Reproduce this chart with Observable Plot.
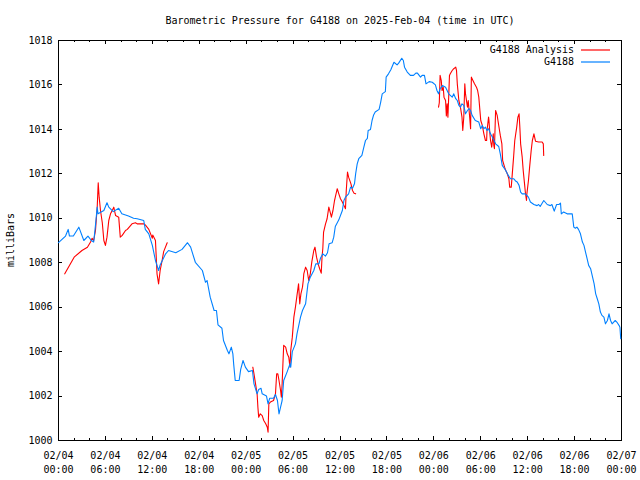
<!DOCTYPE html>
<html>
<head>
<meta charset="utf-8">
<script src="https://cdn.jsdelivr.net/npm/d3@7"></script>
<script src="https://cdn.jsdelivr.net/npm/@observablehq/plot@0.6"></script>
<style>
  html, body { margin: 0; padding: 0; background: #fff; }
  svg { display: block; }
</style>
</head>
<body>
<div id="chart"></div>
<script>
// ---- Data (hours since 2025-02-04 00:00 UTC, pressure in mbar) ----
const chartTitle = "Barometric Pressure for G4188 on 2025-Feb-04 (time in UTC)";
const yLabel = "milliBars";
const seriesNames = ["G4188 Analysis", "G4188"];
const seriesColors = ["#ff0000", "#0080ff"];
const yTickValues = [1000, 1002, 1004, 1006, 1008, 1010, 1012, 1014, 1016, 1018];
const startDay = "2025-02-04T00:00:00Z";
const spanHours = 72;

// Observed station pressure
const stationReadings = [
  [0,1008.9],[0.9,1009.2],[1.24,1009.5],[1.4,1009.2],[1.9,1009.2],[2.6,1009.6],[3.24,1009.0],[3.77,1009.2],
  [4.2,1009.0],[4.5,1008.93],[4.73,1009.7],[4.95,1010.5],[5.05,1010.2],[5.8,1010.35],[6.2,1010.7],[6.43,1010.5],
  [7.0,1010.3],[7.7,1010.45],[8.1,1010.2],[8.95,1010.1],[9.6,1010.0],[10.06,1009.98],[10.9,1009.9],[11.1,1009.5],
  [11.55,1009.3],[12.0,1008.78],[12.4,1008.1],[12.8,1007.65],[13.0,1007.9],[13.7,1008.4],[14.07,1008.55],[15.0,1008.45],
  [15.8,1008.6],[16.5,1008.9],[16.9,1008.7],[17.5,1008.02],[18.4,1007.65],[18.8,1007.12],[19.0,1007.2],[19.4,1006.45],
  [19.9,1005.85],[20.2,1005.85],[20.4,1005.2],[20.9,1005.05],[21.1,1004.5],[21.6,1004.05],[21.8,1003.9],[22.1,1004.2],
  [22.3,1003.9],[22.4,1003.45],[22.6,1002.7],[23.1,1002.7],[23.3,1003.2],[23.6,1003.6],[23.9,1003.3],[24.3,1003.1],
  [24.8,1003.15],[25.0,1002.55],[25.4,1002.1],[25.6,1002.3],[25.9,1002.35],[26.05,1002.1],[26.6,1002.0],[26.8,1001.65],
  [27.0,1001.9],[27.5,1001.9],[27.75,1002.07],[28.0,1001.8],[28.2,1001.2],[28.4,1001.5],[28.6,1001.8],[28.8,1002.7],
  [29.25,1003.1],[29.6,1003.45],[29.7,1003.3],[29.9,1004.0],[30.3,1004.35],[30.5,1004.8],[30.95,1005.55],[31.2,1005.85],
  [31.6,1006.15],[31.9,1007.05],[32.2,1007.35],[32.65,1007.65],[32.9,1007.95],[33.3,1007.95],[33.5,1008.2],[33.8,1008.4],
  [34.15,1008.3],[34.4,1008.45],[34.6,1008.85],[35.0,1008.9],[35.2,1009.15],[35.4,1009.63],[35.85,1009.93],[36.3,1010.35],
  [36.5,1010.8],[36.7,1010.95],[37.1,1011.1],[37.35,1011.4],[37.6,1011.35],[37.85,1011.55],[38.0,1012.0],[38.2,1012.45],
  [38.4,1012.68],[38.8,1012.83],[39.05,1013.2],[39.26,1013.5],[39.5,1013.6],[39.6,1013.95],[39.9,1014.0],[40.1,1014.4],
  [40.3,1014.65],[40.5,1014.78],[41.0,1014.9],[41.2,1015.22],[41.4,1015.6],[41.8,1015.7],[41.9,1016.35],[42.2,1016.5],
  [42.5,1016.68],[42.9,1017.02],[43.3,1016.9],[43.5,1016.98],[43.9,1017.2],[44.1,1017.1],[44.25,1016.8],[44.6,1016.58],
  [45.0,1016.43],[45.4,1016.43],[45.7,1016.53],[45.9,1016.53],[46.3,1016.35],[46.5,1016.43],[46.8,1016.43],[47.0,1016.05],
  [47.4,1016.15],[47.8,1016.12],[48.2,1016.0],[48.4,1015.75],[48.6,1015.6],[48.8,1015.83],[49.1,1015.97],[49.5,1015.9],
  [49.9,1015.6],[50.35,1015.45],[50.55,1015.6],[50.8,1015.38],[51.0,1015.3],[51.2,1015.08],[51.4,1015.0],[51.6,1015.15],
  [51.83,1015.08],[52.05,1014.7],[52.3,1014.85],[52.5,1014.93],[52.7,1014.85],[52.9,1014.63],[53.3,1014.4],[53.75,1014.33],
  [54.0,1014.03],[54.2,1014.18],[54.4,1014.03],[54.6,1014.1],[54.8,1013.95],[55.0,1014.03],[55.25,1013.8],[55.5,1013.65],
  [55.7,1013.5],[55.9,1013.35],[56.3,1013.23],[56.5,1012.9],[56.75,1012.38],[57.2,1012.15],[57.4,1012.0],[57.8,1011.78],
  [58.2,1011.78],[58.45,1011.68],[58.66,1011.63],[58.9,1011.48],[59.1,1011.18],[59.3,1011.1],[59.7,1011.1],[60.1,1010.95],
  [60.35,1010.73],[60.8,1010.62],[61.2,1010.57],[61.4,1010.62],[61.6,1010.53],[62.06,1010.8],[62.5,1010.62],[62.9,1010.57],
  [63.1,1010.62],[63.3,1010.42],[63.4,1010.32],[63.7,1010.62],[64.0,1010.62],[64.2,1010.68],[64.3,1010.2],[64.6,1010.28],
  [65.05,1010.2],[65.7,1010.2],[65.9,1009.6],[66.1,1009.55],[66.3,1009.6],[66.5,1009.5],[66.75,1009.3],[67.0,1008.93],
  [67.2,1008.78],[67.4,1008.48],[67.6,1008.18],[67.8,1007.88],[68.05,1007.73],[68.3,1007.35],[68.5,1007.05],[68.7,1006.6],
  [68.9,1006.38],[69.1,1006.15],[69.3,1005.78],[69.5,1005.63],[69.75,1005.55],[69.95,1005.25],[70.2,1005.4],[70.4,1005.7],
  [70.6,1005.4],[70.8,1005.25],[71.0,1005.33],[71.2,1005.4],[71.4,1005.33],[71.7,1005.17],[71.8,1005.1],[71.9,1004.58]
];

// Model analysis pressure (null = no analysis, line breaks)
const analysisReadings = [
  [0.8,1007.5],[2.0,1008.25],[3.0,1008.55],[3.7,1008.7],[4.1,1008.93],[4.3,1009.1],[4.5,1009.0],[4.73,1009.45],
  [4.95,1010.5],[5.08,1011.6],[5.2,1010.95],[5.37,1010.35],[5.6,1009.8],[5.8,1009.0],[6.0,1008.78],[6.2,1009.15],
  [6.43,1009.9],[6.65,1010.2],[6.87,1010.35],[7.07,1010.5],[7.3,1010.12],[7.7,1010.05],[7.9,1009.15],[8.15,1009.23],
  [8.57,1009.45],[8.8,1009.5],[9.4,1009.75],[9.85,1009.8],[10.06,1009.75],[10.9,1009.75],[11.1,1009.7],[11.55,1009.5],
  [12.0,1009.1],[12.05,1009.25],[12.4,1009.0],[12.6,1007.5],[12.8,1007.05],[13.0,1007.65],[13.25,1008.1],[13.45,1008.5],
  [13.9,1008.9],
  [19.0,null],
  [24.85,1003.3],[25.0,1003.0],[25.2,1002.55],[25.4,1002.1],[25.5,1001.5],[25.6,1001.05],[25.8,1001.2],[26.05,1001.12],
  [26.25,1000.9],[26.5,1000.75],[26.7,1000.6],[26.8,1000.37],[26.9,1001.65],[27.1,1001.73],[27.5,1001.8],[27.75,1002.1],
  [27.9,1003.0],[28.05,1003.0],[28.2,1002.7],[28.4,1002.25],[28.5,1001.95],[28.6,1002.55],[28.7,1003.45],[28.8,1004.28],
  [29.05,1004.2],[29.25,1003.9],[29.45,1003.75],[29.6,1003.3],[29.7,1004.05],[29.9,1004.65],[30.1,1005.55],[30.3,1006.0],
  [30.5,1006.53],[30.7,1007.05],[30.85,1006.15],[31.0,1006.6],[31.2,1006.9],[31.3,1007.2],[31.37,1007.5],[31.6,1007.8],
  [31.8,1007.65],[32.0,1007.2],[32.2,1007.5],[32.4,1008.05],[32.65,1008.55],[32.8,1008.7],[33.0,1008.25],[33.2,1007.95],
  [33.4,1007.73],[33.6,1007.53],[33.7,1008.25],[33.8,1008.63],[33.9,1009.38],[34.15,1009.75],[34.35,1009.98],[34.57,1010.5],
  [34.8,1010.2],[34.9,1010.05],[35.1,1010.35],[35.3,1010.8],[35.4,1010.95],[35.65,1011.33],[35.85,1011.1],[36.06,1010.88],
  [36.3,1010.73],[36.5,1010.58],[36.7,1010.43],[36.8,1011.25],[36.96,1012.08],[37.1,1011.85],[37.4,1011.55],[37.6,1011.25],
  [37.8,1011.13],[38.0,1011.1],
  [43.0,null],
  [48.6,1015.0],[48.7,1015.2],[48.8,1016.43],[48.95,1016.2],[49.05,1015.75],[49.2,1015.9],[49.3,1015.45],[49.5,1015.3],
  [49.6,1014.6],[49.7,1015.15],[49.8,1014.55],[49.9,1015.45],[50.0,1016.43],[50.1,1016.5],[50.35,1016.65],[50.55,1016.73],
  [50.8,1016.8],[50.9,1016.65],[51.0,1016.05],[51.2,1015.3],[51.4,1015.0],[51.6,1014.55],[51.7,1013.95],[51.83,1014.55],
  [51.96,1016.05],[52.05,1015.6],[52.3,1015.0],[52.4,1015.3],[52.6,1014.48],[52.7,1014.03],[52.8,1016.35],[53.0,1016.2],
  [53.2,1016.05],[53.45,1015.9],[53.6,1015.75],[53.75,1015.45],[54.0,1014.4],[54.2,1014.18],[54.4,1013.8],[54.6,1013.5],
  [54.75,1013.5],[54.8,1013.95],[55.0,1014.55],[55.05,1014.4],[55.15,1013.88],[55.25,1013.5],[55.4,1013.2],[55.6,1013.8],
  [55.67,1013.28],[55.75,1013.13],[55.9,1014.85],[56.1,1014.63],[56.2,1014.4],[56.4,1013.95],[56.5,1013.73],[56.7,1013.35],
  [56.8,1012.6],[57.05,1012.3],[57.2,1012.15],[57.4,1012.0],[57.6,1011.78],[57.7,1011.4],[57.9,1011.4],[58.1,1012.3],
  [58.2,1012.75],[58.35,1013.5],[58.6,1014.1],[58.75,1014.55],[58.9,1014.7],[59.0,1014.1],[59.1,1013.35],[59.3,1012.75],
  [59.43,1012.15],[59.6,1011.55],[59.7,1011.18],[59.85,1010.8],[59.9,1011.1],[60.1,1011.7],[60.25,1012.3],[60.45,1013.05],
  [60.6,1013.5],[60.8,1013.8],[61.0,1013.47],[61.4,1013.43],[61.85,1013.43],[62.0,1013.35],[62.05,1012.83]
];

// ---- Build ----
const t0 = new Date(startDay);
const toDate = h => new Date(t0.getTime() + h * 3600e3);
const t1 = toDate(spanHours);
const station = stationReadings.map(([h, p]) => ({t: toDate(h), p}));
const analysis = analysisReadings.map(([h, p]) => ({t: toDate(h), p}));
const majorX = d3.utcHour.every(6).range(t0, toDate(spanHours + 0.1));
const minorX = d3.utcHour.every(2).range(t0, toDate(spanHours + 0.1));
const fmt = d3.utcFormat("%m/%d\n%H:%M");

const font = "'DejaVu Sans Mono', 'Liberation Mono', monospace";
const mL = 58, mR = 19, mT = 40, mB = 40, W = 640, H = 480;
const fw = W - mL - mR, fh = H - mT - mB;

const plot = Plot.plot({
  width: W, height: H,
  marginLeft: mL, marginRight: mR, marginTop: mT, marginBottom: mB,
  style: {fontFamily: font, fontSize: "10px", background: "#fff", color: "#000"},
  x: {type: "utc", domain: [t0, t1]},
  y: {domain: [1000, 1018]},
  marks: [
    Plot.frame({stroke: "#000", shapeRendering: "crispEdges"}),
    // inward ticks, mirrored
    Plot.tickX(minorX, {x: d => d, insetTop: fh - 2, stroke: "#000", shapeRendering: "crispEdges"}),
    Plot.tickX(minorX, {x: d => d, insetBottom: fh - 2, stroke: "#000", shapeRendering: "crispEdges"}),
    Plot.tickX(majorX, {x: d => d, insetTop: fh - 4, stroke: "#000", shapeRendering: "crispEdges"}),
    Plot.tickX(majorX, {x: d => d, insetBottom: fh - 4, stroke: "#000", shapeRendering: "crispEdges"}),
    Plot.tickY(yTickValues, {y: d => d, insetRight: fw - 4, stroke: "#000", shapeRendering: "crispEdges"}),
    Plot.tickY(yTickValues, {y: d => d, insetLeft: fw - 4, stroke: "#000", shapeRendering: "crispEdges"}),
    Plot.axisX({ticks: majorX, tickSize: 0, tickPadding: 9, tickFormat: fmt, label: null, lineHeight: 1.4, fontSize: 10}),
    Plot.axisY({ticks: yTickValues, tickSize: 0, tickPadding: 6, tickFormat: d => String(d), label: null, fontSize: 10}),
    Plot.line(analysis, {x: "t", y: "p", stroke: seriesColors[0], strokeWidth: 1.1}),
    Plot.line(station, {x: "t", y: "p", stroke: seriesColors[1], strokeWidth: 1.1}),
    Plot.text([chartTitle], {frameAnchor: "top", dy: -20, text: d => d, fontSize: 10, lineAnchor: "middle"})
  ]
});

const svg = d3.select(plot);
// y label
svg.append("text")
  .attr("transform", `translate(14,${mT + fh / 2}) rotate(-90)`)
  .attr("text-anchor", "middle")
  .attr("font-family", font).attr("font-size", 10)
  .text(yLabel);
// legend
seriesNames.forEach((name, i) => {
  const y = 50 + i * 12;
  svg.append("text").attr("x", 574).attr("y", y).attr("dy", "0.32em")
    .attr("text-anchor", "end").attr("font-family", font).attr("font-size", 10).text(name);
  svg.append("line").attr("x1", 581).attr("x2", 610).attr("y1", y).attr("y2", y)
    .attr("stroke", seriesColors[i]).attr("stroke-width", 1.2);
});
document.getElementById("chart").appendChild(plot);
</script>
</body>
</html>
